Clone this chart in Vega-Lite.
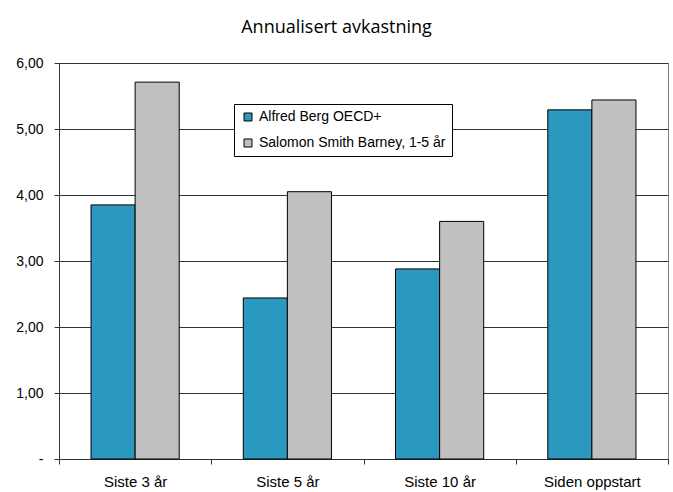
{
  "$schema": "https://vega.github.io/schema/vega-lite/v6.json",
  "width": 609,
  "height": 396,
  "autosize": {"type": "none"},
  "padding": {"left": 59, "top": 63, "right": 5, "bottom": 33},
  "background": "white",
  "title": {
    "text": "Annualisert avkastning",
    "font": "Open Sans",
    "fontSize": 18,
    "fontWeight": "normal",
    "color": "black",
    "anchor": "middle",
    "frame": "group",
    "baseline": "alphabetic",
    "offset": 5,
    "dx": -27
  },
  "data": {
    "values": [
      {"periode": "Siste 3 år", "serie": "Alfred Berg OECD+", "verdi": 3.85},
      {"periode": "Siste 3 år", "serie": "Salomon Smith Barney, 1-5 år", "verdi": 5.71},
      {"periode": "Siste 5 år", "serie": "Alfred Berg OECD+", "verdi": 2.44},
      {"periode": "Siste 5 år", "serie": "Salomon Smith Barney, 1-5 år", "verdi": 4.05},
      {"periode": "Siste 10 år", "serie": "Alfred Berg OECD+", "verdi": 2.88},
      {"periode": "Siste 10 år", "serie": "Salomon Smith Barney, 1-5 år", "verdi": 3.60},
      {"periode": "Siden oppstart", "serie": "Alfred Berg OECD+", "verdi": 5.29},
      {"periode": "Siden oppstart", "serie": "Salomon Smith Barney, 1-5 år", "verdi": 5.44}
    ]
  },
  "mark": {"type": "bar", "stroke": "black", "strokeWidth": 1},
  "encoding": {
    "x": {
      "field": "periode",
      "type": "nominal",
      "sort": ["Siste 3 år", "Siste 5 år", "Siste 10 år", "Siden oppstart"],
      "scale": {"paddingInner": 0, "paddingOuter": 0},
      "axis": {
        "title": null,
        "labelAngle": 0,
        "labelFont": "Liberation Sans",
        "labelFontSize": 15,
        "labelColor": "black",
        "labelPadding": 10,
        "tickSize": 5,
        "tickBand": "extent",
        "tickColor": "#333333",
        "domainColor": "#333333",
        "grid": false
      }
    },
    "xOffset": {
      "field": "serie",
      "type": "nominal",
      "sort": ["Alfred Berg OECD+", "Salomon Smith Barney, 1-5 år"],
      "scale": {"paddingInner": 0, "paddingOuter": 0.727}
    },
    "y": {
      "field": "verdi",
      "type": "quantitative",
      "scale": {"domain": [0, 6], "nice": false},
      "axis": {
        "title": null,
        "values": [0, 1, 2, 3, 4, 5, 6],
        "labelExpr": "datum.value == 0 ? '-\u00a0\u00a0\u00a0\u00a0' : replace(format(datum.value, '.2f'), '.', ',')",
        "labelFont": "Liberation Sans",
        "labelFontSize": 14,
        "labelColor": "black",
        "labelPadding": 11,
        "tickSize": 5,
        "tickColor": "#333333",
        "domainColor": "#333333",
        "grid": true,
        "gridColor": "#333333",
        "gridOpacity": 1
      }
    },
    "color": {
      "field": "serie",
      "type": "nominal",
      "scale": {
        "domain": ["Alfred Berg OECD+", "Salomon Smith Barney, 1-5 år"],
        "range": ["#2B98BF", "#C0C0C0"]
      },
      "legend": {
        "title": null,
        "orient": "none",
        "legendX": 175,
        "legendY": 41,
        "fillColor": "white",
        "strokeColor": "black",
        "padding": 6,
        "rowPadding": 12,
        "symbolType": "square",
        "symbolSize": 64,
        "symbolStrokeColor": "black",
        "symbolStrokeWidth": 1,
        "symbolOffset": 1,
        "labelFont": "Liberation Sans",
        "labelFontSize": 14,
        "labelColor": "black",
        "labelOffset": 4,
        "labelLimit": 300
      }
    }
  },
  "config": {
    "view": {"stroke": "#808080", "strokeWidth": 1}
  }
}
